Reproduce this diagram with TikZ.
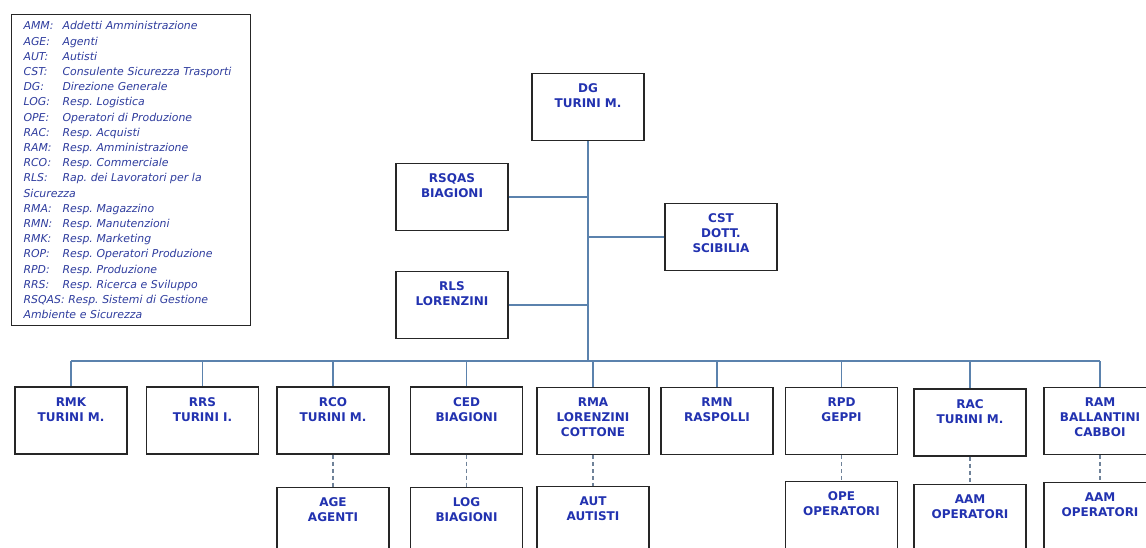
\documentclass[tikz,border=0pt]{standalone}
\usepackage{fontspec}
\setmainfont{DejaVu Sans}
\usepackage{xcolor}
\usepackage{tikz}
\usetikzlibrary{positioning}
\definecolor{orgline}{HTML}{5b82ad}
\definecolor{orgdash}{HTML}{6f8299}
\definecolor{orgtext}{HTML}{2232b0}
\definecolor{keytext}{HTML}{2e3c9e}
\definecolor{orgedge}{HTML}{262626}
\newcommand{\unittxt}[1]{\parbox[c][67pt][t]{112pt}{\centering\rule{0pt}{19pt}#1}}
\newcommand{\abbr}[1]{\makebox[39pt][l]{#1}}
\frenchspacing

\begin{document}
\begin{tikzpicture}[x=1pt, y=-1pt,
 unit/.style={draw=orgedge, line width=1.3pt, fill=white, inner sep=0pt, minimum width=112pt, minimum height=67pt,
   font=\bfseries\fontsize{12}{15}\selectfont, text=orgtext},
 keybox/.style={draw=orgedge, line width=1.1pt, text width=215pt, inner xsep=12pt, inner ysep=7pt, align=left,
   font=\itshape\fontsize{10.9}{15.2}\selectfont, text=keytext},
 link/.style={orgline, line width=1.2pt},
 sublink/.style={orgdash, line width=1.1pt, dash pattern=on 4pt off 3pt}]
\clip (0,0) rectangle (1146,548);
\fill[white] (0,0) rectangle (1146,548);

% legend
\node[keybox, anchor=north west] (key) at (11,14) {\abbr{AMM:}Addetti Amministrazione\\
\abbr{AGE:}Agenti\\
\abbr{AUT:}Autisti\\
\abbr{CST:}Consulente Sicurezza Trasporti\\
\abbr{DG:}Direzione Generale\\
\abbr{LOG:}Resp. Logistica\\
\abbr{OPE:}Operatori di Produzione\\
\abbr{RAC:}Resp. Acquisti\\
\abbr{RAM:}Resp. Amministrazione\\
\abbr{RCO:}Resp. Commerciale\\
\abbr{RLS:}Rap. dei Lavoratori per la\\
Sicurezza\\
\abbr{RMA:}Resp. Magazzino\\
\abbr{RMN:}Resp. Manutenzioni\\
\abbr{RMK:}Resp. Marketing\\
\abbr{ROP:}Resp. Operatori Produzione\\
\abbr{RPD:}Resp. Produzione\\
\abbr{RRS:}Resp. Ricerca e Sviluppo\\
RSQAS: Resp. Sistemi di Gestione\\
Ambiente e Sicurezza};

% top of the chart
\node[unit] (dg) at (588,107) {\unittxt{DG\\TURINI M.}};
\node[unit] (rsqas) at (452,197) {\unittxt{RSQAS\\BIAGIONI}};
\node[unit] (cst) at (721,237) {\unittxt{CST\\DOTT.\\SCIBILIA}};
\node[unit] (rls) at (452,305) {\unittxt{RLS\\LORENZINI}};
\coordinate (bus) at (588,361);

% first row
\node[unit] (rmk) at (71,420.5) {\unittxt{RMK\\TURINI M.}};
\node[unit] (rrs) at (202.5,420.5) {\unittxt{RRS\\TURINI I.}};
\node[unit] (rco) at (333,420.5) {\unittxt{RCO\\TURINI M.}};
\node[unit] (ced) at (466.5,420.5) {\unittxt{CED\\BIAGIONI}};
\node[unit] (rma) at (593,421) {\unittxt{RMA\\LORENZINI\\COTTONE}};
\node[unit] (rmn) at (717,421) {\unittxt{RMN\\RASPOLLI}};
\node[unit] (rpd) at (841.5,421) {\unittxt{RPD\\GEPPI}};
\node[unit] (rac) at (970,422.5) {\unittxt{RAC\\TURINI M.}};
\node[unit] (ram) at (1100,421) {\unittxt{RAM\\BALLANTINI\\CABBOI}};

% second row
\node[unit, below=32pt of rco] (age) {\unittxt{AGE\\AGENTI}};
\node[unit, below=32pt of ced] (log) {\unittxt{LOG\\BIAGIONI}};
\node[unit, below=31pt of rma] (aut) {\unittxt{AUT\\AUTISTI}};
\node[unit, below=26pt of rpd] (ope) {\unittxt{OPE\\OPERATORI}};
\node[unit, below=27pt of rac] (aam) {\unittxt{AAM\\OPERATORI}};
\node[unit, below=27pt of ram] (aamb) {\unittxt{AAM\\OPERATORI}};

\draw[link] (dg.south) -- (bus);
\draw[link] (rsqas.east) -- (rsqas.east -| bus);
\draw[link] (rls.east) -- (rls.east -| bus);
\draw[link] (cst.west) -- (cst.west -| bus);
\draw[link] (rmk.north |- bus) -- (ram.north |- bus);
\foreach \a in {rmk,rrs,rco,ced,rma,rmn,rpd,rac,ram}
  {\draw[link] (\a.north |- bus) -- (\a.north);}
\foreach \a/\b in {rco/age,ced/log,rma/aut,rpd/ope,rac/aam,ram/aamb}
  {\draw[sublink] (\a) -- (\b);}

\end{tikzpicture}
\end{document}
